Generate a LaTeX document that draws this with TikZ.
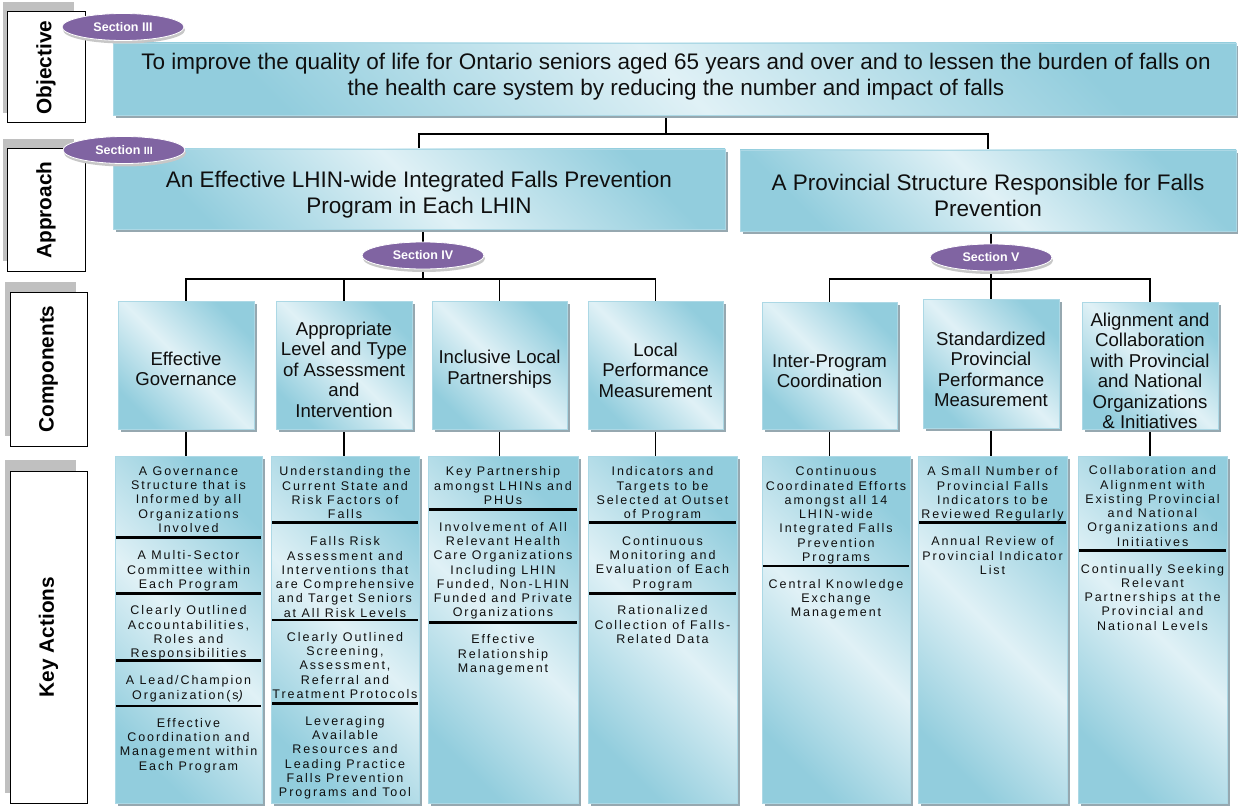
\documentclass[tikz,border=0pt]{standalone}
\usepackage{fontspec}
\setmainfont{Liberation Sans}
\newfontfamily\kafont[LetterSpace=15.5]{Liberation Sans}
\usetikzlibrary{shadows,shapes.geometric}
\pgfdeclarelayer{bg}
\pgfsetlayers{bg,main}
\definecolor{bdark}{RGB}{146,205,221}
\definecolor{blight}{RGB}{224,241,246}
\definecolor{bedge}{RGB}{172,216,229}
\definecolor{bshadow}{RGB}{150,168,176}
\definecolor{purp}{RGB}{128,100,162}
\definecolor{lblgray}{RGB}{192,192,192}
\definecolor{txt}{RGB}{15,15,15}
\tikzset{
 bluebox/.style={draw=bedge, line width=0.8pt, top color=bdark, bottom color=bdark, middle color=blight, shading angle=-45,
   drop shadow={shadow xshift=3pt, shadow yshift=-3pt, fill=bshadow, opacity=1}, inner sep=0pt},
 conn/.style={draw=black, line width=1.2pt},
 sepline/.style={draw=black, line width=2.8pt, shorten <=1.5pt, shorten >=1.5pt},
 badge/.style={ellipse, fill=purp, draw=white, line width=0.8pt, minimum width=122pt, minimum height=27pt, inner sep=0pt,
   text=white, font=\bfseries\fontsize{12.5}{14}\selectfont,
   drop shadow={shadow xshift=1pt, shadow yshift=-3pt, fill=black!22, opacity=1}},
 lblbox/.style={draw=black, fill=white, line width=1pt, inner sep=0pt},
 lblshade/.style={fill=lblgray},
 lbltext/.style={rotate=90, font=\bfseries\fontsize{20.8}{24}\selectfont, inner sep=0pt},
 bigtext/.style={align=center, font=\fontsize{22.5}{26}\selectfont, inner sep=0pt, text=txt},
 comptext/.style={align=center, font=\fontsize{18.6}{20.5}\selectfont, inner sep=0pt, text=txt},
 katext/.style={align=center, font=\kafont\fontsize{12.5}{14.25}\selectfont, inner sep=0pt, anchor=north, text=txt},
}
\newcommand\kasep[2]{\draw[sepline] (#1.west |- 0,#2) -- (#1.east |- 0,#2);}
\begin{document}
\begin{tikzpicture}[x=1pt,y=-1pt]
\useasboundingbox (0,0) rectangle (1238,805);
\begin{pgfonlayer}{bg}
\fill[white] (0,0) rectangle (1238,805);
\end{pgfonlayer}

% ---- left label boxes
\fill[lblshade] (3,2) rectangle (74,113);
\node[lblbox, minimum width=78pt, minimum height=111pt] (lObj) at (46,67.5) {};
\node[lbltext] (tObj) at (lObj) {Objective};
\fill[lblshade] (3,139) rectangle (74,261);
\node[lblbox, minimum width=78pt, minimum height=122pt] (lApp) at (46,210) {};
\node[lbltext] (tApp) at (lApp) {Approach};
\fill[lblshade] (5,282) rectangle (76,436);
\node[lblbox, minimum width=77pt, minimum height=154pt] (lCom) at (48.5,369) {};
\node[lbltext] (tCom) at (lCom) {Components};
\fill[lblshade] (5,460) rectangle (76,793);
\node[lblbox, minimum width=77pt, minimum height=332pt] (lKey) at (48.5,637) {};
\node[lbltext] (tKey) at (lKey) {Key Actions};

% ---- objective
\node[bluebox, minimum width=1123pt, minimum height=72pt] (obj) at (674.5,79) {};
\node[bigtext] (objt) at (676,77) {To improve the quality of life for Ontario seniors aged 65 years and over and to lessen the burden of falls on\\the health care system by reducing the number and impact of falls};

% ---- approach
\node[bluebox, minimum width=612pt, minimum height=80pt] (apL) at (419,189) {};
\node[bigtext] (apLt) at (419,195) {An Effective LHIN-wide Integrated Falls Prevention\\Program in Each LHIN};
\node[bluebox, minimum width=496pt, minimum height=81pt] (apR) at (988,190.5) {};
\node[bigtext] (apRt) at (988,195.5) {A Provincial Structure Responsible for Falls\\Prevention};

% ---- components
\node[bluebox, minimum width=136pt, minimum height=128pt] (cEG) at (186,365) {};
\node[comptext] at (186,369) {Effective\\Governance};
\node[bluebox, minimum width=136pt, minimum height=128pt] (cAL) at (344,365) {};
\node[comptext] at (344,369.5) {Appropriate\\Level and Type\\of Assessment\\and\\Intervention};
\node[bluebox, minimum width=135pt, minimum height=128pt] (cIL) at (499.5,365) {};
\node[comptext] at (499.5,369) {Inclusive Local\\Partnerships};
\node[bluebox, minimum width=135pt, minimum height=128pt] (cLP) at (655.5,365) {};
\node[comptext] at (655.5,370) {Local\\Performance\\Measurement};
\node[bluebox, minimum width=135pt, minimum height=127pt] (cIP) at (829.5,365.5) {};
\node[comptext] at (829.5,371) {Inter-Program\\Coordination};
\node[bluebox, minimum width=136pt, minimum height=129pt] (cSP) at (991,363.5) {};
\node[comptext] at (991,369.5) {Standardized\\Provincial\\Performance\\Measurement};
\node[bluebox, minimum width=136pt, minimum height=127pt] (cAC) at (1150,365.5) {};
\node[comptext] at (1150,371) {Alignment and\\Collaboration\\with Provincial\\and National\\Organizations\\\& Initiatives};

% ---- key action columns
\node[bluebox, minimum width=147pt, minimum height=347pt] (k1) at (188.5,629.5) {};
\node[bluebox, minimum width=148pt, minimum height=347pt] (k2) at (345,629.5) {};
\node[bluebox, minimum width=150pt, minimum height=347pt] (k3) at (503,629.5) {};
\node[bluebox, minimum width=149pt, minimum height=347pt] (k4) at (662.5,629.5) {};
\node[bluebox, minimum width=148pt, minimum height=347pt] (k5) at (836,629.5) {};
\node[bluebox, minimum width=149pt, minimum height=347pt] (k6) at (992.5,629.5) {};
\node[bluebox, minimum width=149pt, minimum height=347pt] (k7) at (1152.5,629.5) {};

% column 1
\node[katext] (k1a) at (188.5,466.5) {A Governance\\Structure that is\\Informed by all\\Organizations\\Involved};
\kasep{k1}{537.3}
\node[katext] (k1b) at (188.5,550.5) {A Multi-Sector\\Committee within\\Each Program};
\kasep{k1}{593.3}
\node[katext] (k1c) at (188.5,605.5) {Clearly Outlined\\Accountabilities,\\Roles and\\Responsibilities};
\kasep{k1}{660.7}
\node[katext] (k1d) at (188.5,675.5) {A Lead/Champion\\Organization(s\textit{)}};
\kasep{k1}{706}
\node[katext] (k1e) at (188.5,718.2) {Effective\\Coordination and\\Management within\\Each Program};
% column 2
\node[katext] (k2a) at (345,466.5) {Understanding the\\Current State and\\Risk Factors of\\Falls};
\kasep{k2}{522.7}
\node[katext] (k2b) at (345,536.5) {Falls Risk\\Assessment and\\Interventions that\\are Comprehensive\\and Target Seniors\\at All Risk Levels};
\kasep{k2}{620}
\node[katext] (k2c) at (345,632.2) {Clearly Outlined\\Screening,\\Assessment,\\Referral and\\Treatment Protocols};
\kasep{k2}{703.3}
\node[katext] (k2d) at (345,716.2) {Leveraging\\Available\\Resources and\\Leading Practice\\Falls Prevention\\Programs and Tool};
% column 3
\node[katext] (k3a) at (503,466.5) {Key Partnership\\amongst LHINs and\\PHUs};
\kasep{k3}{509.3}
\node[katext] (k3b) at (503,522.2) {Involvement of All\\Relevant Health\\Care Organizations\\Including LHIN\\Funded, Non-LHIN\\Funded and Private\\Organizations};
\kasep{k3}{622.3}
\node[katext] (k3c) at (503,634.5) {Effective\\Relationship\\Management};
% column 4
\node[katext] (k4a) at (662.5,466.5) {Indicators and\\Targets to be\\Selected at Outset\\of Program};
\kasep{k4}{522.7}
\node[katext] (k4b) at (662.5,536.2) {Continuous\\Monitoring and\\Evaluation of Each\\Program};
\kasep{k4}{593.3}
\node[katext] (k4c) at (662.5,605.5) {Rationalized\\Collection of Falls-\\Related Data};
% column 5
\node[katext] (k5a) at (836,466.5) {Continuous\\Coordinated Efforts\\amongst all 14\\LHIN-wide\\Integrated Falls\\Prevention\\Programs};
\kasep{k5}{566}
\node[katext] (k5b) at (836,578.8) {Central Knowledge\\Exchange\\Management};
% column 6
\node[katext] (k6a) at (992.5,466.5) {A Small Number of\\Provincial Falls\\Indicators to be\\Reviewed Regularly};
\kasep{k6}{522.7}
\node[katext] (k6b) at (992.5,536.5) {Annual Review of\\Provincial Indicator\\List};
% column 7
\node[katext] (k7a) at (1152.5,465.5) {Collaboration and\\Alignment with\\Existing Provincial\\and National\\Organizations and\\Initiatives};
\kasep{k7}{550.7}
\node[katext] (k7b) at (1152.5,563.8) {Continually Seeking\\Relevant\\Partnerships at the\\Provincial and\\National Levels};

% ---- badges
\node[badge] (sec3a) at (123,27) {Section III};
\node[badge] (sec3b) at (124,150) {Section {\fontsize{10.5}{12}\selectfont III}};
\node[badge] (sec4) at (423,255.5) {Section IV};
\node[badge] (sec5) at (991,257.5) {Section V};

% ---- connectors
\coordinate (topj) at (666,134);
\coordinate (busL) at (423,279);
\coordinate (busR) at (991,279);
\begin{pgfonlayer}{bg}
\draw[conn] (obj.south -| topj) -- (topj);
\draw[conn] (apL.north) -- (apL.north |- topj) -- (apR.north |- topj) -- (apR.north);
\draw[conn] (apL.south -| sec4) -- (sec4) -- (busL);
\draw[conn] (cEG.north) -- (cEG.north |- busL) -- (cLP.north |- busL) -- (cLP.north);
\draw[conn] (cAL.north |- busL) -- (cAL.north);
\draw[conn] (cIL.north |- busL) -- (cIL.north);
\draw[conn] (apR.south -| sec5) -- (sec5) -- (busR);
\draw[conn] (cIP.north) -- (cIP.north |- busR) -- (cAC.north |- busR) -- (cAC.north);
\draw[conn] (busR) -- (cSP.north);
\draw[conn] (cEG.south) -- (cEG.south |- k1.north);
\draw[conn] (cAL.south) -- (cAL.south |- k2.north);
\draw[conn] (cIL.south) -- (cIL.south |- k3.north);
\draw[conn] (cLP.south) -- (cLP.south |- k4.north);
\draw[conn] (cIP.south) -- (cIP.south |- k5.north);
\draw[conn] (cSP.south) -- (cSP.south |- k6.north);
\draw[conn] (cAC.south) -- (cAC.south |- k7.north);
\end{pgfonlayer}
\end{tikzpicture}
\end{document}
